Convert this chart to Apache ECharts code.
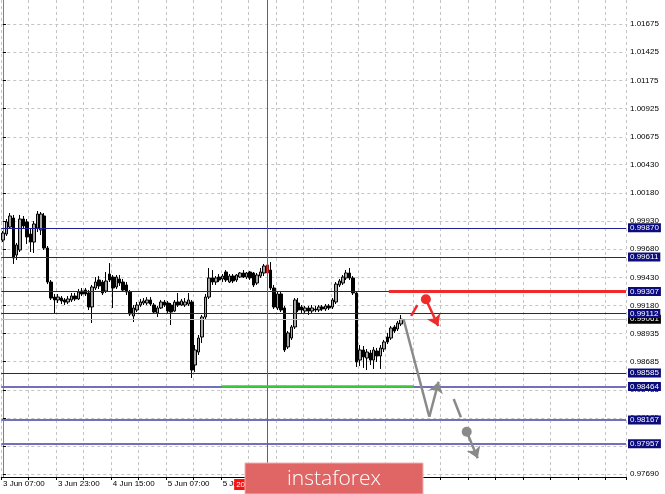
<!DOCTYPE html>
<html><head><meta charset="utf-8">
<script src="https://cdn.jsdelivr.net/npm/echarts@6/dist/echarts.min.js"></script>
<style>html,body{margin:0;padding:0;background:#fff}#c{width:665px;height:494px}</style>
</head><body><div id="c"></div>
<script>
// ---- data ----
const startUTC = [2019, 5, 3, 7];      // 3 Jun 07:00, hourly bars
const slotCount = 182;                 // bars + empty future space
const monthNames = ['Jan','Feb','Mar','Apr','May','Jun','Jul','Aug','Sep','Oct','Nov','Dec'];
// [open, close, low, high]
const candles = [
[0.99762,0.99824,0.99744,0.99842],[0.99815,0.99922,0.99798,0.99948],[0.99877,0.99975,0.99860,1.00001],
[0.99957,0.99603,0.99550,0.99984],[0.99629,0.99718,0.99585,0.99736],[0.99674,0.99948,0.99656,0.99984],
[0.99948,0.99886,0.99860,0.99975],[0.99922,0.99789,0.99727,0.99948],[0.99815,0.99744,0.99656,0.99860],
[0.99744,0.99904,0.99647,0.99930],[0.99868,0.99992,0.99833,1.00019],[0.99851,0.99992,0.99806,1.00010],
[0.99975,0.99691,0.99674,1.00001],[0.99691,0.99390,0.99372,0.99709],[0.99390,0.99248,0.99231,0.99408],
[0.99257,0.99231,0.99107,0.99284],[0.99231,0.99257,0.99204,0.99284],[0.99248,0.99222,0.99195,0.99266],
[0.99231,0.99213,0.99186,0.99248],[0.99213,0.99240,0.99195,0.99266],[0.99231,0.99266,0.99213,0.99293],
[0.99266,0.99240,0.99222,0.99293],[0.99240,0.99302,0.99231,0.99328],[0.99310,0.99284,0.99266,0.99337],
[0.99319,0.99284,0.99266,0.99337],[0.99293,0.99169,0.99142,0.99319],[0.99169,0.99346,0.99027,0.99364],
[0.99337,0.99390,0.99319,0.99434],[0.99408,0.99355,0.99328,0.99443],[0.99390,0.99293,0.99275,0.99408],
[0.99310,0.99399,0.99293,0.99479],[0.99461,0.99408,0.99390,0.99558],[0.99434,0.99337,0.99160,0.99452],
[0.99346,0.99434,0.99328,0.99452],[0.99417,0.99381,0.99355,0.99452],[0.99390,0.99319,0.99302,0.99417],
[0.99364,0.99302,0.99275,0.99390],[0.99302,0.99107,0.99089,0.99319],[0.99089,0.99160,0.99036,0.99186],
[0.99142,0.99186,0.99124,0.99213],[0.99186,0.99213,0.99169,0.99240],[0.99204,0.99222,0.99186,0.99248],
[0.99204,0.99231,0.99186,0.99257],[0.99231,0.99195,0.99178,0.99257],[0.99186,0.99124,0.99107,0.99204],
[0.99116,0.99160,0.99080,0.99178],[0.99160,0.99213,0.99151,0.99231],[0.99213,0.99186,0.99169,0.99231],
[0.99204,0.99133,0.99116,0.99222],[0.99186,0.99124,0.99009,0.99204],[0.99133,0.99213,0.99124,0.99231],
[0.99213,0.99186,0.99169,0.99293],[0.99186,0.99222,0.99178,0.99240],[0.99186,0.99213,0.99169,0.99248],
[0.99195,0.99231,0.99178,0.99293],[0.99213,0.98611,0.98540,0.99231],[0.98655,0.98788,0.98593,0.98832],
[0.98770,0.98894,0.98744,0.98921],[0.98903,0.99080,0.98850,0.99098],[0.99080,0.99257,0.99054,0.99284],
[0.99257,0.99426,0.99240,0.99514],[0.99426,0.99390,0.99364,0.99496],[0.99390,0.99426,0.99364,0.99443],
[0.99434,0.99408,0.99390,0.99461],[0.99417,0.99443,0.99390,0.99461],[0.99479,0.99408,0.99390,0.99496],
[0.99390,0.99443,0.99381,0.99461],[0.99443,0.99399,0.99381,0.99461],[0.99408,0.99452,0.99390,0.99461],
[0.99434,0.99470,0.99426,0.99479],[0.99470,0.99434,0.99426,0.99496],[0.99434,0.99470,0.99417,0.99479],
[0.99479,0.99426,0.99408,0.99488],[0.99470,0.99364,0.99346,0.99479],[0.99381,0.99452,0.99364,0.99470],
[0.99443,0.99479,0.99426,0.99514],[0.99470,0.99532,0.99443,0.99550],[0.99541,0.99470,0.99443,0.99612],
[0.99496,0.99337,0.99319,0.99567],[0.99337,0.99169,0.99151,0.99364],[0.99160,0.99284,0.99142,0.99302],
[0.99284,0.99142,0.99124,0.99302],[0.99160,0.98788,0.98770,0.99178],[0.98815,0.98939,0.98797,0.98956],
[0.98894,0.98992,0.98877,0.99009],[0.98992,0.99231,0.98974,0.99248],[0.99204,0.99142,0.99124,0.99248],
[0.99169,0.99142,0.99116,0.99186],[0.99133,0.99160,0.99116,0.99178],[0.99160,0.99133,0.99098,0.99178],
[0.99133,0.99160,0.99116,0.99186],[0.99151,0.99142,0.99124,0.99178],[0.99142,0.99169,0.99124,0.99186],
[0.99169,0.99151,0.99133,0.99186],[0.99151,0.99178,0.99133,0.99195],[0.99178,0.99160,0.99142,0.99195],
[0.99169,0.99231,0.99151,0.99248],[0.99213,0.99372,0.99195,0.99390],[0.99364,0.99399,0.99346,0.99417],
[0.99381,0.99434,0.99364,0.99452],[0.99426,0.99470,0.99408,0.99496],[0.99470,0.99426,0.99408,0.99514],
[0.99426,0.99293,0.99275,0.99443],[0.99293,0.98682,0.98637,0.99310],[0.98699,0.98788,0.98646,0.98832],
[0.98788,0.98726,0.98629,0.98823],[0.98717,0.98770,0.98611,0.98797],[0.98761,0.98699,0.98655,0.98788],
[0.98699,0.98788,0.98620,0.98815],[0.98779,0.98735,0.98682,0.98806],[0.98735,0.98806,0.98620,0.98832],
[0.98797,0.98859,0.98770,0.98877],[0.98903,0.98859,0.98841,0.98939],[0.98894,0.98983,0.98877,0.99000],
[0.98992,0.98956,0.98939,0.99009],[0.98974,0.99027,0.98956,0.99045],[0.99018,0.99061,0.99000,0.99098]
];
const highlightedBar = 77;             // bar drawn dark red under the marker line
const lastLabelledBar = 96;            // time labels beyond this are hidden in the source
const yTicks = [1.01675,1.01425,1.01175,1.00925,1.00675,1.00430,1.00180,0.99930,0.99680,0.99430,
                0.99180,0.98935,0.98685,0.98435,0.98185,0.97935,0.97690];
const yMax = 1.01888, yMin = 0.97663;
const levelsDark = [0.99870, 0.99611, 0.99307, 0.99112, 0.98585];
const levelsLight = [0.98464, 0.98167, 0.97957];
const lastPrice = 0.99061;
const markedTime = '6 Jun 12:00';
const markedTimeLabel = '2019.06.06 12:00';
// drawings in (bar index, price)
const resistanceLine = [[112.4, 0.99307], [181.5, 0.99307]];
const supportLine = [[63.8, 0.98464], [119.6, 0.98464]];
const grayDown = [[116.7, 0.99060], [124.2, 0.98197]];
const grayUp = [[124.2, 0.98197], [126.9, 0.98507]];
const grayDash = [[131.3, 0.98354], [133.4, 0.98192]];
const grayDot = [135.1, 0.98064];
const grayArrow = [[135.1, 0.98064], [138.3, 0.97829]];
const redDash = [[118.9, 0.99089], [120.7, 0.99186]];
const redDot = [123.2, 0.99237];
const redArrow = [[123.2, 0.99237], [126.8, 0.99000]];

// ---- build ----
const pad = n => (n < 10 ? '0' : '') + n;
const categories = [];
for (let k = 0; k < slotCount; k++) {
  const d = new Date(Date.UTC(startUTC[0], startUTC[1], startUTC[2], startUTC[3] + k));
  categories.push(d.getUTCDate() + ' ' + monthNames[d.getUTCMonth()] + ' ' + pad(d.getUTCHours()) + ':00');
}
const markedIndex = categories.indexOf(markedTime);
const candleData = candles.map((c, i) => i === highlightedBar
  ? { value: c, itemStyle: { color0: '#9a1010', borderColor0: '#9a1010', color: '#9a1010', borderColor: '#9a1010' } }
  : c);

const FONT = 'Liberation Sans';
const levelLabel = bg => ({ show: true, position: 'end', distance: 2, color: '#fff', fontSize: 8, fontFamily: FONT,
  padding: [1, 2, 0, 2], backgroundColor: bg, formatter: p => Number(p.value).toFixed(5) });
const markData = [];
markData.push({ yAxis: lastPrice, lineStyle: { color: '#c0c0c0', width: 1, type: 'solid' }, label: levelLabel('#000') });
levelsLight.forEach(v => markData.push({ yAxis: v, lineStyle: { color: '#7070bb', width: 2, type: 'solid' }, label: levelLabel('#0c0c7c') }));
levelsDark.forEach(v => markData.push({ yAxis: v, lineStyle: { color: '#1e1e96', width: 1, type: 'solid' }, label: levelLabel('#0c0c7c') }));

const GRAY = '#8a8a8a', RED = '#ee2a2a';
const option = {
  animation: false,
  textStyle: { fontFamily: FONT },
  grid: { left: 0, right: 39, top: 0, bottom: 17 },
  xAxis: [{
    type: 'category', data: categories, boundaryGap: true,
    axisLine: { show: true, lineStyle: { color: '#000', width: 1 } },
    axisTick: { show: true, interval: 7, length: 3, lineStyle: { color: '#000' } },
    axisLabel: { interval: (i) => i % 16 === 0 && i <= lastLabelledBar, align: 'left', fontSize: 8, color: '#000', margin: 3 },
    splitLine: { show: true, interval: 7, lineStyle: { color: '#c4c4c4', type: [3, 3] } }
  }, {
    type: 'value', min: -0.5, max: slotCount - 0.5, show: false
  }],
  yAxis: {
    type: 'value', position: 'right', min: yMin, max: yMax,
    axisLine: { show: true, lineStyle: { color: '#808080' } },
    axisTick: { show: true, length: 3, customValues: yTicks, lineStyle: { color: '#000' } },
    axisLabel: { customValues: yTicks, formatter: v => v.toFixed(5), fontSize: 8, color: '#000', margin: 4 },
    splitLine: { show: true, lineStyle: { color: '#c4c4c4', type: [3, 3] } }
  },
  series: [
    { type: 'candlestick', data: candleData, barWidth: 3,
      itemStyle: { color: '#a6a6a6', color0: '#000', borderColor: '#000', borderColor0: '#000', borderWidth: 1 } },
    { type: 'line', xAxisIndex: 1, data: [], z: 4, color: '#1e1e96',
      markLine: { symbol: 'none', silent: true, animation: false, precision: 5, data: markData } },
    { type: 'line', xAxisIndex: 1, data: [], z: 8, color: '#ff2020',
      markLine: { symbol: 'none', silent: true, animation: false,
        lineStyle: { color: '#ff2020', width: 1, type: 'solid', opacity: 1 },
        label: { show: true, position: 'start', distance: 2, formatter: markedTimeLabel, color: '#fff', backgroundColor: '#ff1010',
                 fontSize: 8, fontFamily: FONT, padding: [2, 2, 1, 2] },
        data: [{ xAxis: markedIndex }] } },
    { type: 'line', xAxisIndex: 1, data: supportLine, symbol: 'none', lineStyle: { color: '#3cc83c', width: 2.5 }, z: 5 },
    { type: 'line', xAxisIndex: 1, data: resistanceLine, symbol: 'none', lineStyle: { color: RED, width: 3 }, z: 5 },
    { type: 'line', xAxisIndex: 1, data: grayDown, symbol: 'none', lineStyle: { color: GRAY, width: 2.5 }, z: 6 },
    { type: 'line', xAxisIndex: 1, data: grayDash, symbol: 'none', lineStyle: { color: GRAY, width: 2.5 }, z: 6 },
    { type: 'line', xAxisIndex: 1, data: redDash, symbol: 'none', lineStyle: { color: RED, width: 2.5 }, z: 6 },
    { type: 'lines', coordinateSystem: 'cartesian2d', xAxisIndex: 1, z: 6,
      symbol: ['none', 'arrow'], symbolSize: 11,
      lineStyle: { color: GRAY, width: 2.5, opacity: 1 },
      data: [{ coords: grayUp }, { coords: grayArrow }] },
    { type: 'lines', coordinateSystem: 'cartesian2d', xAxisIndex: 1, z: 6,
      symbol: ['none', 'arrow'], symbolSize: 11,
      lineStyle: { color: RED, width: 2.5, opacity: 1 },
      data: [{ coords: redArrow }] },
    { type: 'scatter', xAxisIndex: 1, z: 7, symbolSize: 10, data: [grayDot], itemStyle: { color: GRAY, opacity: 1 } },
    { type: 'scatter', xAxisIndex: 1, z: 7, symbolSize: 10, data: [redDot], itemStyle: { color: RED, opacity: 1 } }
  ],
  graphic: [
    { type: 'rect', z: 100, shape: { x: 245, y: 463, width: 178, height: 31 },
      style: { fill: '#e06666', stroke: '#f0b0b0', lineWidth: 1 } },
    { type: 'text', z: 101, x: 334, y: 479,
      style: { text: 'instaforex', fill: '#fff', font: '300 21px "Open Sans"', textAlign: 'center', textVerticalAlign: 'middle' } }
  ]
};
const chart = echarts.init(document.getElementById('c'), null, { renderer: 'canvas' });
chart.setOption(option);
</script></body></html>
